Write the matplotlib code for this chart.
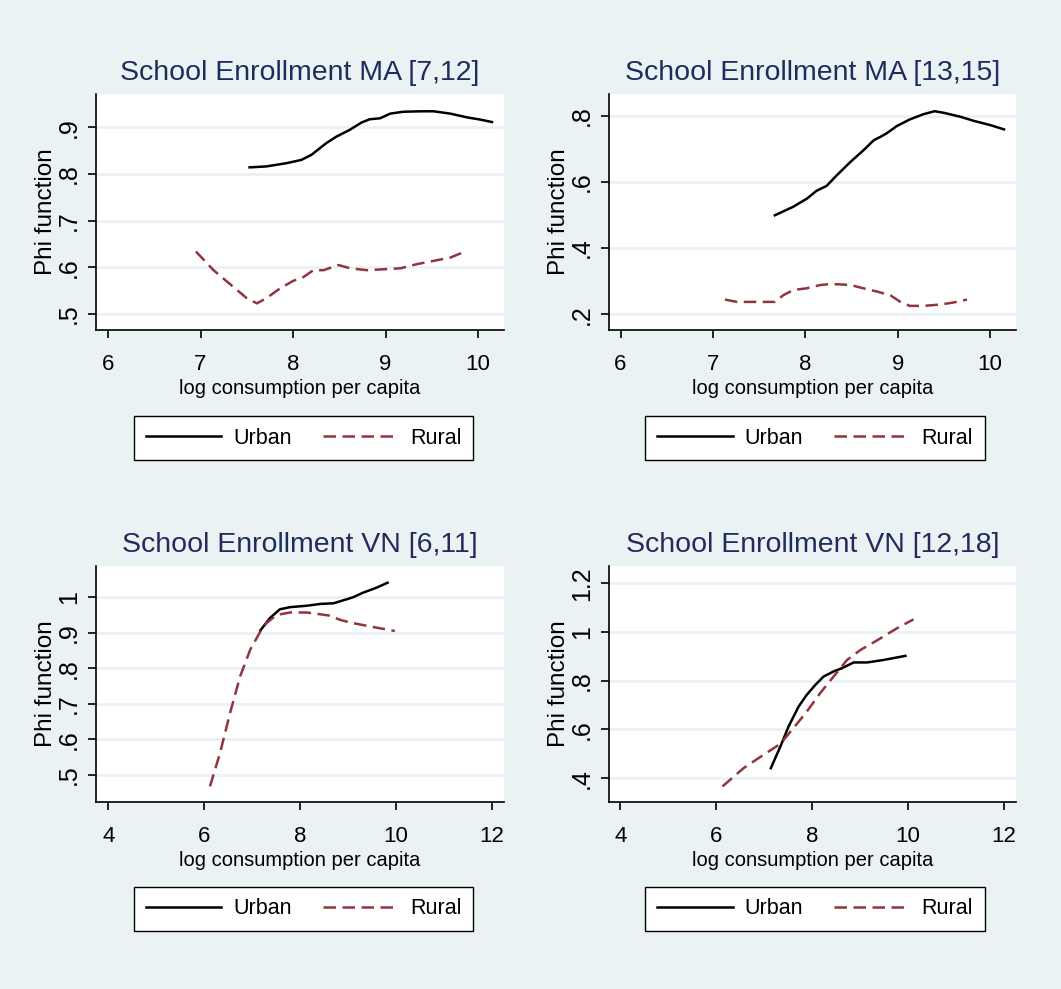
#!/usr/bin/env python3
"""Phi function vs log consumption per capita, urban/rural, four panels."""

import matplotlib
matplotlib.use("Agg")
import matplotlib.pyplot as plt
from matplotlib.lines import Line2D

plt.rcParams['font.family'] = ['Liberation Sans', 'DejaVu Sans']

# ---- data ----
titles = ["School Enrollment MA [7,12]", "School Enrollment MA [13,15]",
          "School Enrollment VN [6,11]", "School Enrollment VN [12,18]"]

ma1_urban_x = [7.53, 7.71, 7.93, 8.09, 8.20, 8.36, 8.47, 8.61, 8.74, 8.83, 8.94, 9.05,
               9.19, 9.38, 9.52, 9.70, 9.88, 10.03, 10.15]
ma1_urban_y = [0.814, 0.816, 0.823, 0.830, 0.841, 0.866, 0.880, 0.894, 0.910, 0.917, 0.919,
               0.929, 0.933, 0.934, 0.934, 0.929, 0.921, 0.916, 0.911]
ma1_rural_x = [6.95, 7.14, 7.35, 7.50, 7.61, 7.71, 7.86, 8.00, 8.11, 8.22, 8.33, 8.49, 8.62,
               8.80, 8.98, 9.16, 9.34, 9.52, 9.70, 9.86]
ma1_rural_y = [0.634, 0.594, 0.559, 0.534, 0.523, 0.534, 0.555, 0.571, 0.579, 0.594, 0.594,
               0.605, 0.598, 0.594, 0.596, 0.598, 0.607, 0.614, 0.621, 0.634]

ma2_urban_x = [7.67, 7.87, 8.02, 8.12, 8.23, 8.34, 8.49, 8.63, 8.74, 8.81, 8.88, 8.99, 9.13,
               9.28, 9.40, 9.50, 9.68, 9.82, 10.00, 10.15]
ma2_urban_y = [0.499, 0.525, 0.550, 0.573, 0.588, 0.620, 0.661, 0.696, 0.726, 0.736, 0.747,
               0.769, 0.789, 0.805, 0.814, 0.809, 0.797, 0.785, 0.772, 0.759]
ma2_rural_x = [7.13, 7.26, 7.48, 7.67, 7.76, 7.87, 8.01, 8.16, 8.27, 8.38, 8.49, 8.63, 8.78,
               8.92, 9.03, 9.13, 9.28, 9.46, 9.60, 9.75]
ma2_rural_y = [0.244, 0.237, 0.237, 0.237, 0.257, 0.273, 0.278, 0.288, 0.291, 0.290, 0.288,
               0.278, 0.268, 0.257, 0.237, 0.225, 0.225, 0.229, 0.235, 0.244]

vn1_urban_x = [7.17, 7.37, 7.58, 7.79, 8.14, 8.42, 8.70, 8.97, 9.11, 9.32, 9.60, 9.83]
vn1_urban_y = [0.906, 0.941, 0.966, 0.972, 0.976, 0.981, 0.983, 0.994, 1.000, 1.013, 1.027, 1.041]
vn1_rural_x = [6.12, 6.33, 6.54, 6.75, 6.96, 7.17, 7.30, 7.51, 7.79, 8.14, 8.42, 8.63, 8.84,
               9.11, 9.53, 9.98]
vn1_rural_y = [0.467, 0.561, 0.674, 0.777, 0.852, 0.903, 0.927, 0.950, 0.957, 0.957, 0.952,
               0.948, 0.936, 0.927, 0.916, 0.905]

vn2_urban_x = [7.14, 7.34, 7.51, 7.72, 7.89, 8.07, 8.24, 8.45, 8.62, 8.87, 9.15, 9.49, 9.95]
vn2_urban_y = [0.441, 0.530, 0.612, 0.694, 0.742, 0.783, 0.817, 0.838, 0.851, 0.875, 0.875,
               0.885, 0.902]
vn2_rural_x = [6.13, 6.57, 6.99, 7.34, 7.61, 7.89, 8.17, 8.45, 8.73, 9.01, 9.43, 9.77, 10.12]
vn2_rural_y = [0.366, 0.441, 0.496, 0.541, 0.605, 0.673, 0.749, 0.817, 0.885, 0.926, 0.974,
               1.015, 1.052]

xticks_ma = [6, 7, 8, 9, 10]
xticks_vn = [4, 6, 8, 10, 12]
yticks_ma1 = [0.5, 0.6, 0.7, 0.8, 0.9]
yticks_ma2 = [0.2, 0.4, 0.6, 0.8]
yticks_vn1 = [0.5, 0.6, 0.7, 0.8, 0.9, 1.0]
yticks_vn2 = [0.4, 0.6, 0.8, 1.0, 1.2]

BG = '#eaf2f3'
TITLE_COL = '#1f2d5c'
RURAL_COL = '#90353b'

W, H = 1061, 989
fig = plt.figure(figsize=(W / 100, H / 100), dpi=100, facecolor=BG)


def stata_label(v):
    s = ('%g' % v)
    if s.startswith('0.'):
        s = s[1:]
    return s


def px_axes(left, top, right, bottom):
    return fig.add_axes([left / W, 1 - bottom / H, (right - left) / W, (bottom - top) / H])


panels = [
    (titles[0], ma1_urban_x, ma1_urban_y, ma1_rural_x, ma1_rural_y, xticks_ma, yticks_ma1,
     (5.87, 10.28), (0.466, 0.971), (96, 94, 504, 330), (303.5, 438)),
    (titles[1], ma2_urban_x, ma2_urban_y, ma2_rural_x, ma2_rural_y, xticks_ma, yticks_ma2,
     (5.875, 10.28), (0.152, 0.866), (609, 94, 1016, 330), (815, 438)),
    (titles[2], vn1_urban_x, vn1_urban_y, vn1_rural_x, vn1_rural_y, xticks_vn, yticks_vn1,
     (3.74, 12.26), (0.423, 1.088), (96, 566, 504, 802), (303.5, 909)),
    (titles[3], vn2_urban_x, vn2_urban_y, vn2_rural_x, vn2_rural_y, xticks_vn, yticks_vn2,
     (3.76, 12.26), (0.302, 1.271), (609, 566, 1016, 802), (815, 909)),
]

dash = (0, (5, 2.6))

for title, ux, uy, rx, ry, xt, yt, xl, yl, box, legc in panels:
    ax = px_axes(*box)
    ax.set_facecolor('white')
    ax.plot(ux, uy, color='black', lw=1.8, zorder=3)
    ax.plot(rx, ry, color=RURAL_COL, lw=1.8, linestyle=dash, zorder=3)
    ax.set_xlim(*xl)
    ax.set_ylim(*yl)
    ax.set_xticks(xt)
    ax.set_xticklabels([stata_label(v) for v in xt])
    ax.set_yticks(yt)
    ax.set_yticklabels([stata_label(v) for v in yt], rotation=90, va='center')
    ax.yaxis.grid(True, color=BG, lw=2)
    ax.set_axisbelow(True)
    for s in ['top', 'right']:
        ax.spines[s].set_visible(False)
    for s in ['left', 'bottom']:
        ax.spines[s].set_linewidth(1.2)
    ax.tick_params(length=6, width=1.2)
    ax.tick_params(axis='x', labelsize=16, pad=11)
    ax.tick_params(axis='y', labelsize=18, pad=5)
    ax.set_xlabel('log consumption per capita', fontsize=14.5, labelpad=3)
    ax.set_ylabel('Phi function', fontsize=17.5, labelpad=0)
    ax.set_title(title, fontsize=20.5, color=TITLE_COL, pad=10)

    handles = [Line2D([], [], color='black', lw=1.8),
               Line2D([], [], color=RURAL_COL, lw=1.8, linestyle=dash)]
    leg = fig.legend(handles, ['Urban', 'Rural'], loc='center',
                     bbox_to_anchor=(legc[0] / W, 1 - legc[1] / H), ncol=2,
                     fontsize=15.5, frameon=True, fancybox=False, handlelength=3.5,
                     handletextpad=0.55, columnspacing=1.45, borderpad=0.55,
                     borderaxespad=0)
    leg.get_frame().set_edgecolor('black')
    leg.get_frame().set_linewidth(1.0)
    leg.get_frame().set_facecolor('white')
    leg.get_frame().set_alpha(1.0)

fig.savefig('out.png', dpi=100, facecolor=BG)
